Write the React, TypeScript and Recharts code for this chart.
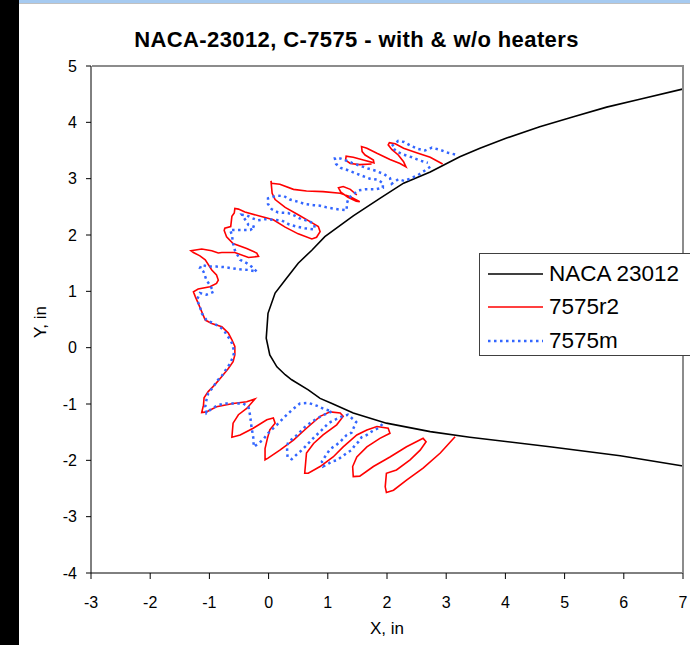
import React from "react";
import { LineChart, Line, XAxis, YAxis, Legend } from "recharts";

// x, y in inches
const xTicks = [-3, -2, -1, 0, 1, 2, 3, 4, 5, 6, 7];
const yTicks = [-4, -3, -2, -1, 0, 1, 2, 3, 4, 5];

const naca23012: [number, number][] = [
  [6.99, 4.59], [6.27, 4.41], [5.71, 4.27], [5.15, 4.1], [4.58, 3.92], [4.02, 3.72], [3.57, 3.54],
  [3.23, 3.39], [2.73, 3.12], [2.28, 2.92], [1.88, 2.65], [1.43, 2.34], [0.95, 1.97], [0.73, 1.73],
  [0.5, 1.5], [0.28, 1.2], [0.11, 0.97], [-0.01, 0.61], [-0.04, 0.17], [0.02, -0.13], [0.14, -0.34],
  [0.28, -0.48], [0.39, -0.57], [0.67, -0.75], [0.87, -0.9], [1.07, -0.99], [1.43, -1.16],
  [1.99, -1.34], [2.73, -1.49], [3.4, -1.59], [4.75, -1.76], [5.94, -1.92], [7.0, -2.1],
];

// 7575r2 - top feathers near the surface
const r2Upper: [number, number][] = [
  [2.94, 3.26], [2.73, 3.38], [2.5, 3.46], [2.28, 3.54], [2.14, 3.62], [2.04, 3.64], [2.02, 3.6],
  [2.08, 3.52], [2.19, 3.42], [2.28, 3.3], [2.32, 3.21], [2.22, 3.27], [2.05, 3.34], [1.83, 3.45],
  [1.66, 3.54], [1.57, 3.57], [1.58, 3.48], [1.63, 3.42], [1.77, 3.33], [1.78, 3.28], [1.6, 3.33],
  [1.43, 3.38], [1.31, 3.4], [1.3, 3.33], [1.38, 3.27], [1.54, 3.25], [1.74, 3.26],
];

// 7575r2 - main outline, upper side round the nose to the lower side
const r2Main: [number, number][] = [
  [1.49, 2.71], [1.38, 2.81], [1.26, 2.86], [1.18, 2.84], [1.22, 2.76], [1.34, 2.67], [1.48, 2.6],
  [1.54, 2.59], [1.38, 2.68], [1.21, 2.74], [0.92, 2.77], [0.64, 2.78], [0.42, 2.81], [0.19, 2.9],
  [0.05, 2.92], [0.04, 2.96], [0.06, 2.74], [0.11, 2.63], [0.28, 2.49], [0.5, 2.36], [0.73, 2.22],
  [0.84, 2.15], [0.87, 2.06], [0.81, 1.96], [0.73, 1.93], [0.5, 2.02], [0.28, 2.14], [0.08, 2.27],
  [-0.17, 2.34], [-0.4, 2.41], [-0.51, 2.46], [-0.57, 2.47], [-0.58, 2.39], [-0.62, 2.33],
  [-0.64, 2.15], [-0.74, 2.12], [-0.75, 2.08], [-0.71, 1.97], [-0.6, 1.85], [-0.37, 1.76],
  [-0.2, 1.68], [-0.17, 1.62], [-0.34, 1.6], [-0.57, 1.69], [-0.79, 1.69], [-0.85, 1.68],
  [-0.96, 1.72], [-1.13, 1.75], [-1.31, 1.72], [-1.27, 1.69], [-1.16, 1.63], [-1.07, 1.56],
  [-0.96, 1.38], [-0.88, 1.29], [-0.85, 1.2], [-0.88, 1.14], [-0.99, 1.08], [-1.19, 1.04],
  [-1.27, 0.99], [-1.24, 0.91], [-1.19, 0.79], [-1.13, 0.64], [-1.07, 0.49], [-0.96, 0.43],
  [-0.79, 0.37], [-0.68, 0.26], [-0.62, 0.14], [-0.57, 0.02], [-0.57, -0.13], [-0.6, -0.25],
  [-0.68, -0.37], [-0.79, -0.51], [-0.91, -0.66], [-1.02, -0.78], [-1.09, -0.89], [-1.1, -1.02],
  [-1.13, -1.15], [-1.05, -1.14], [-0.88, -1.05], [-0.6, -0.99], [-0.37, -0.96], [-0.23, -0.91],
  [-0.37, -1.08], [-0.51, -1.19], [-0.6, -1.34], [-0.62, -1.59], [-0.48, -1.55], [-0.26, -1.43],
  [-0.03, -1.28], [0.08, -1.25], [0.11, -1.34], [0.02, -1.46], [-0.02, -1.61], [-0.06, -1.79],
  [-0.06, -1.99], [-0.01, -1.96], [0.19, -1.82], [0.42, -1.64], [0.64, -1.43], [0.87, -1.22],
  [1.04, -1.14], [1.21, -1.16], [1.26, -1.22], [1.15, -1.37], [0.92, -1.55], [0.76, -1.7],
  [0.64, -1.87], [0.61, -2.23], [0.67, -2.23], [0.87, -2.11], [1.09, -1.94], [1.26, -1.76],
  [1.49, -1.55], [1.66, -1.46], [1.83, -1.4], [2.02, -1.43], [2.05, -1.52], [1.88, -1.61],
  [1.66, -1.76], [1.49, -1.94], [1.42, -2.11], [1.43, -2.29], [1.54, -2.28], [1.77, -2.11],
  [2.05, -1.94], [2.33, -1.76], [2.61, -1.61], [2.66, -1.67], [2.56, -1.82], [2.39, -1.99],
  [2.16, -2.17], [1.99, -2.23], [1.97, -2.47], [1.99, -2.57], [2.11, -2.53], [2.33, -2.35],
  [2.61, -2.14], [2.9, -1.87], [3.15, -1.58],
];

// 7575m - top feather
const mUpper: [number, number][] = [
  [3.15, 3.43], [3.03, 3.46], [2.9, 3.51], [2.76, 3.55], [2.64, 3.5], [2.52, 3.53], [2.41, 3.58],
  [2.29, 3.65], [2.19, 3.67], [2.08, 3.58], [2.15, 3.49], [2.27, 3.43], [2.42, 3.38], [2.56, 3.32],
  [2.69, 3.28],
];

// 7575m - main outline
const mMain: [number, number][] = [
  [2.73, 3.21], [2.62, 3.13], [2.52, 3.06], [2.39, 3.0], [2.29, 2.96], [2.19, 2.99], [2.08, 2.91],
  [2.05, 3.01], [1.95, 3.08], [1.81, 3.14], [1.68, 3.18], [1.54, 3.23], [1.41, 3.28], [1.29, 3.33],
  [1.21, 3.36], [1.12, 3.36], [1.14, 3.26], [1.22, 3.19], [1.34, 3.15], [1.46, 3.1], [1.58, 3.05],
  [1.71, 3.0], [1.85, 2.98], [1.93, 2.92], [1.93, 2.84], [1.8, 2.81], [1.63, 2.81], [1.51, 2.79],
  [1.43, 2.72], [1.35, 2.65], [1.32, 2.55], [1.32, 2.44], [1.21, 2.45], [1.09, 2.47], [0.98, 2.49],
  [0.87, 2.52], [0.76, 2.53], [0.61, 2.55], [0.5, 2.59], [0.36, 2.63], [0.26, 2.69], [0.14, 2.7],
  [-0.01, 2.65], [-0.01, 2.55], [0.05, 2.46], [0.16, 2.4], [0.33, 2.39], [0.45, 2.34], [0.55, 2.28],
  [0.68, 2.25], [0.77, 2.19], [0.78, 2.1], [0.61, 2.12], [0.47, 2.15], [0.34, 2.19], [0.22, 2.26],
  [0.08, 2.27], [-0.06, 2.28], [-0.18, 2.26], [-0.28, 2.3], [-0.37, 2.35], [-0.45, 2.36],
  [-0.4, 2.28], [-0.34, 2.18], [-0.23, 2.14], [-0.31, 2.09], [-0.43, 2.09], [-0.51, 2.09],
  [-0.65, 2.09], [-0.62, 2.0], [-0.6, 1.85], [-0.57, 1.73], [-0.48, 1.56], [-0.37, 1.5],
  [-0.29, 1.44], [-0.2, 1.35], [-0.34, 1.38], [-0.48, 1.39], [-0.62, 1.41], [-0.74, 1.43],
  [-0.88, 1.44], [-1.02, 1.44], [-1.13, 1.47], [-1.16, 1.41], [-1.1, 1.35], [-1.05, 1.2],
  [-0.99, 1.11], [-0.93, 0.99], [-1.05, 0.94], [-1.16, 0.97], [-1.21, 0.85], [-1.16, 0.73],
  [-1.13, 0.61], [-1.05, 0.49], [-0.93, 0.43], [-0.82, 0.37], [-0.74, 0.28], [-0.65, 0.14],
  [-0.62, 0.08], [-0.58, -0.07], [-0.6, -0.16], [-0.65, -0.28], [-0.71, -0.37], [-0.79, -0.5],
  [-0.88, -0.6], [-0.93, -0.69], [-1.02, -0.81], [-1.05, -0.93], [-1.07, -1.05], [-1.05, -1.16],
  [-0.96, -1.08], [-0.85, -1.02], [-0.74, -0.99], [-0.57, -0.99], [-0.43, -0.99], [-0.34, -1.05],
  [-0.31, -1.22], [-0.29, -1.4], [-0.26, -1.59], [-0.25, -1.76], [-0.17, -1.7], [-0.09, -1.63],
  [-0.01, -1.52], [0.14, -1.37], [0.28, -1.22], [0.39, -1.11], [0.53, -0.99], [0.67, -0.98],
  [0.81, -1.03], [0.94, -1.09], [1.07, -1.13], [0.9, -1.21], [0.75, -1.3], [0.61, -1.41],
  [0.48, -1.55], [0.33, -1.68], [0.31, -1.76], [0.32, -1.94], [0.39, -1.98], [0.45, -1.92],
  [0.56, -1.82], [0.67, -1.7], [0.78, -1.58], [0.9, -1.46], [1.01, -1.34], [1.12, -1.28],
  [1.22, -1.23], [1.34, -1.19], [1.48, -1.32], [1.4, -1.51], [1.32, -1.55], [1.21, -1.67],
  [1.14, -1.73], [1.04, -1.8], [0.95, -1.94], [0.9, -2.02], [0.92, -2.11], [0.98, -2.08],
  [1.07, -2.02], [1.15, -2.0], [1.23, -1.94], [1.32, -1.87], [1.4, -1.82], [1.46, -1.73],
  [1.52, -1.67], [1.57, -1.59], [1.66, -1.55], [1.74, -1.49], [1.85, -1.43], [1.94, -1.34],
];

const toPoints = (pts: [number, number][]) => pts.map(([x, y]) => ({ x, y }));

const FONT = "'Liberation Sans', Arial, sans-serif";
const RED = "#FF0000";
const BLUE = "#3366FF";
const BLUE_DASH = "2.5 3.5";

const legendItems = [
  { name: "NACA 23012", color: "#000000", dash: undefined as string | undefined },
  { name: "7575r2", color: RED, dash: undefined as string | undefined },
  { name: "7575m", color: BLUE, dash: BLUE_DASH },
];

function LegendBox() {
  return (
    <div
      style={{
        width: 220,
        height: 103,
        border: "1px solid #404040",
        background: "#fff",
        boxSizing: "border-box",
        paddingTop: 3,
      }}
    >
      {legendItems.map((item) => (
        <div key={item.name} style={{ display: "flex", alignItems: "center", height: 33.5 }}>
          <svg width={62} height={10} style={{ marginLeft: 7 }}>
            <line
              x1={1}
              y1={5}
              x2={56}
              y2={5}
              stroke={item.color}
              strokeWidth={item.dash ? 2.5 : 1.5}
              strokeDasharray={item.dash}
            />
          </svg>
          <span style={{ fontFamily: FONT, fontSize: 22.5, color: "#000" }}>{item.name}</span>
        </div>
      ))}
    </div>
  );
}

export default function App() {
  return (
    <div
      style={{
        position: "absolute",
        left: 0,
        top: 0,
        width: 690,
        height: 645,
        background: "#fff",
        overflow: "hidden",
        fontFamily: FONT,
      }}
    >
      <div style={{ position: "absolute", left: 0, top: 0 }}>
        <LineChart width={704} height={645} margin={{ top: 66, right: 21, bottom: 0, left: 0 }}>
          <XAxis
            type="number"
            dataKey="x"
            domain={[-3, 7]}
            ticks={xTicks}
            interval={0}
            height={72}
            axisLine={{ stroke: "#000" }}
            tickLine={{ stroke: "#000" }}
            tickSize={6}
            tickMargin={18}
            tick={{ fill: "#000", fontSize: 16, fontFamily: FONT }}
            label={{
              content: () => (
                <text x={387} y={634} textAnchor="middle" fontSize={17} fontFamily={FONT} fill="#000">
                  X, in
                </text>
              ),
            }}
          />
          <YAxis
            type="number"
            dataKey="y"
            domain={[-4, 5]}
            ticks={yTicks}
            interval={0}
            width={91}
            axisLine={{ stroke: "#000" }}
            tickLine={{ stroke: "#000" }}
            tickSize={5}
            tickMargin={9}
            tick={{ fill: "#000", fontSize: 16, fontFamily: FONT }}
            label={{
              content: () => (
                <text
                  x={40}
                  y={322}
                  transform="rotate(-90 40 322)"
                  textAnchor="middle"
                  dominantBaseline="central"
                  fontSize={17}
                  fontFamily={FONT}
                  fill="#000"
                >
                  Y, in
                </text>
              ),
            }}
          />
          <Line
            data={toPoints(naca23012)}
            dataKey="y"
            type="linear"
            stroke="#000"
            strokeWidth={1.6}
            dot={false}
            activeDot={false}
            isAnimationActive={false}
          />
          <Line
            data={toPoints(r2Upper)}
            dataKey="y"
            type="linear"
            stroke={RED}
            strokeWidth={1.6}
            dot={false}
            activeDot={false}
            isAnimationActive={false}
          />
          <Line
            data={toPoints(r2Main)}
            dataKey="y"
            type="linear"
            stroke={RED}
            strokeWidth={1.6}
            dot={false}
            activeDot={false}
            isAnimationActive={false}
          />
          <Line
            data={toPoints(mUpper)}
            dataKey="y"
            type="linear"
            stroke={BLUE}
            strokeWidth={2.5}
            strokeDasharray={BLUE_DASH}
            dot={false}
            activeDot={false}
            isAnimationActive={false}
          />
          <Line
            data={toPoints(mMain)}
            dataKey="y"
            type="linear"
            stroke={BLUE}
            strokeWidth={2.5}
            strokeDasharray={BLUE_DASH}
            dot={false}
            activeDot={false}
            isAnimationActive={false}
          />
          <Legend
            layout="horizontal"
            align="center"
            verticalAlign="middle"
            content={() => <LegendBox />}
            wrapperStyle={{ position: "absolute", left: 479, top: 253, width: 220, height: 103, zIndex: 2 }}
          />
        </LineChart>
      </div>
      {/* plot-area frame: top and right edges in grey */}
      <div style={{ position: "absolute", left: 92, top: 65, width: 592, height: 2, background: "#8C8C8C", zIndex: 1 }} />
      <div style={{ position: "absolute", left: 682, top: 65, width: 2, height: 188, background: "#8C8C8C", zIndex: 1 }} />
      <div style={{ position: "absolute", left: 682, top: 356, width: 2, height: 217, background: "#8C8C8C", zIndex: 1 }} />
      <div style={{ position: "absolute", left: 0, top: 0, width: 690, height: 3, background: "#A6CAF0", zIndex: 3 }} />
      <div style={{ position: "absolute", left: 0, top: 3, width: 690, height: 1, background: "#C0C0C0", zIndex: 3 }} />
      <div style={{ position: "absolute", left: 0, top: 0, width: 19, height: 645, background: "#000", zIndex: 3 }} />
      <div
        style={{
          position: "absolute",
          left: 0,
          top: 27,
          width: 713,
          textAlign: "center",
          fontSize: 22,
          fontWeight: "bold",
          letterSpacing: 0.4,
          color: "#000",
          whiteSpace: "nowrap",
          zIndex: 3,
        }}
      >
        NACA-23012, C-7575 - with &amp; w/o heaters
      </div>
    </div>
  );
}
